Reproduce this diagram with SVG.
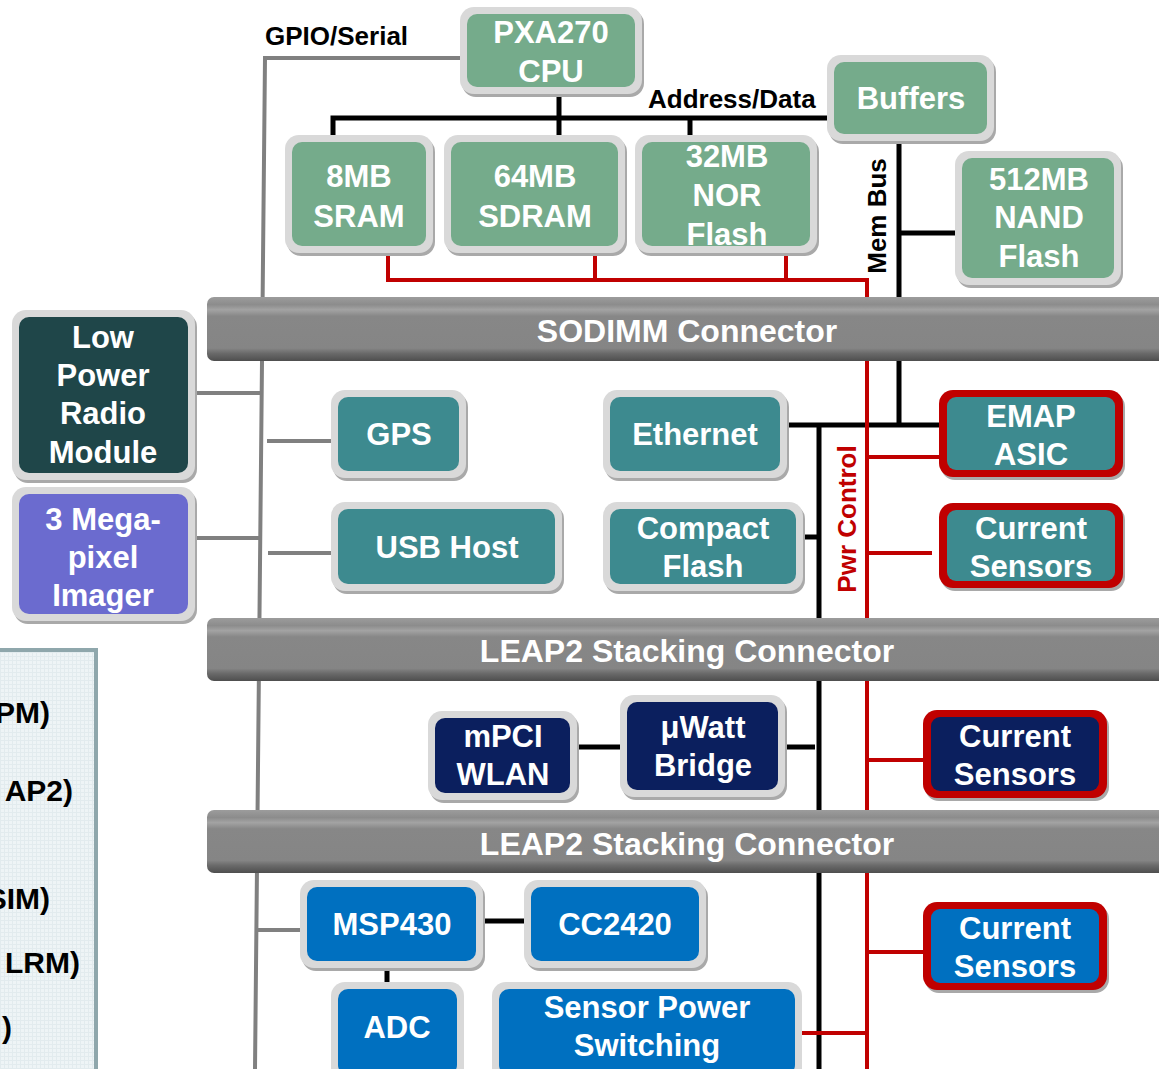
<svg xmlns="http://www.w3.org/2000/svg" width="1159" height="1069" viewBox="0 0 1159 1069">
<defs>
<style>
.t{font-family:"Liberation Sans",Arial,sans-serif;font-weight:bold;font-size:31px;fill:#fff;text-anchor:middle}
.bt{font-family:"Liberation Sans",Arial,sans-serif;font-weight:bold;font-size:32px;fill:#fff;text-anchor:middle}
.lbl{font-family:"Liberation Sans",Arial,sans-serif;font-weight:bold;font-size:26px;fill:#000}
.pl{font-family:"Liberation Sans",Arial,sans-serif;font-weight:bold;font-size:30px;fill:#000;text-anchor:end}
.frame{fill:#D9D9D9}
.shadow{fill:#A9A9A9}
.red{fill:#C00000}
.green{fill:#75AB8B}
.teal{fill:#3D8A8F}
.dteal{fill:#1F4649}
.purple{fill:#6B6BCF}
.navy{fill:#0B1F5E}
.blue{fill:#0070C0}
.gl{stroke:#808080;stroke-width:4;fill:none}
.bl{stroke:#000;stroke-width:5;fill:none}
.rl{stroke:#C00000;stroke-width:4;fill:none}
</style>
<linearGradient id="barg" x1="0" y1="0" x2="0" y2="1">
<stop offset="0" stop-color="#9C9C9C"/>
<stop offset="0.12" stop-color="#8C8C8C"/>
<stop offset="0.2" stop-color="#A3A3A3"/>
<stop offset="0.3" stop-color="#878787"/>
<stop offset="0.8" stop-color="#858585"/>
<stop offset="0.88" stop-color="#6A6A6A"/>
<stop offset="1" stop-color="#4E4E4E"/>
</linearGradient>
<pattern id="grid" width="4" height="4" patternUnits="userSpaceOnUse">
<rect width="4" height="4" fill="#EEF4F6"/>
<path d="M0 0.5H4M0.5 0V4" stroke="#E2EBEE" stroke-width="1"/>
</pattern>
</defs>

<rect width="1159" height="1069" fill="#fff"/>

<g id="legend-panel">
<rect x="-10" y="650" width="106" height="430" fill="url(#grid)" stroke="#8FA7AC" stroke-width="4"/>
<text class="pl" x="50" y="723">PM)</text>
<text class="pl" x="73" y="801">AP2)</text>
<text class="pl" x="50" y="909">SIM)</text>
<text class="pl" x="80" y="973">LRM)</text>
<text class="pl" x="12" y="1038">)</text>
</g>

<g id="connectors">
<polyline class="gl" points="460,58 265,58 255,1069"/>
<line class="gl" x1="195" y1="393" x2="262" y2="393"/>
<line class="gl" x1="195" y1="538" x2="260" y2="538"/>
<line class="gl" x1="267" y1="441" x2="331" y2="441"/>
<line class="gl" x1="268" y1="553" x2="331" y2="553"/>
<line class="gl" x1="256" y1="930" x2="300" y2="930"/>

<line class="bl" x1="559" y1="93" x2="559" y2="136"/>
<polyline class="bl" points="333,136 333,118 827,118"/>
<line class="bl" x1="690" y1="118" x2="690" y2="136"/>
<line class="bl" x1="899" y1="141" x2="899" y2="425"/>
<line class="bl" x1="899" y1="233" x2="955" y2="233"/>
<line class="bl" x1="787" y1="425" x2="939" y2="425"/>
<line class="bl" x1="819" y1="423" x2="819" y2="1069"/>
<line class="bl" x1="803" y1="537" x2="819" y2="537"/>
<line class="bl" x1="577" y1="747" x2="620" y2="747"/>
<line class="bl" x1="785" y1="747" x2="815" y2="747"/>
<line class="bl" x1="483" y1="921" x2="524" y2="921"/>
<line class="bl" x1="387" y1="968" x2="387" y2="982"/>

<polyline class="rl" points="388,253 388,280 867,280 867,1069"/>
<line class="rl" x1="595" y1="253" x2="595" y2="280"/>
<line class="rl" x1="786" y1="253" x2="786" y2="280"/>
<line class="rl" x1="867" y1="457" x2="939" y2="457"/>
<line class="rl" x1="867" y1="553" x2="932" y2="553"/>
<line class="rl" x1="867" y1="760" x2="923" y2="760"/>
<line class="rl" x1="867" y1="952" x2="923" y2="952"/>
<line class="rl" x1="802" y1="1033" x2="867" y2="1033"/>

<text class="lbl" x="265" y="45">GPIO/Serial</text>
<text class="lbl" x="648" y="108">Address/Data</text>
<text class="lbl" transform="translate(886,216) rotate(-90)" text-anchor="middle">Mem Bus</text>
<text class="lbl" transform="translate(856,519) rotate(-90)" text-anchor="middle" style="fill:#C00000">Pwr Control</text>
</g>

<g id="sodimm-connector">
<rect x="207" y="297" width="970" height="64" rx="7" fill="url(#barg)"/>
<text class="bt" x="687" y="342">SODIMM Connector</text>
</g>
<g id="leap2-connector-1">
<rect x="207" y="618" width="970" height="63" rx="7" fill="url(#barg)"/>
<text class="bt" x="687" y="662">LEAP2 Stacking Connector</text>
</g>
<g id="leap2-connector-2">
<rect x="207" y="810" width="970" height="63" rx="7" fill="url(#barg)"/>
<text class="bt" x="687" y="855">LEAP2 Stacking Connector</text>
</g>

<g id="cpu">
<rect class="shadow" x="462" y="10" width="182" height="87" rx="14"/>
<rect class="frame" x="460" y="7" width="182" height="87" rx="14"/>
<rect class="green" x="467" y="14" width="168" height="73" rx="10"/>
<text class="t" x="551" y="43">PXA270</text>
<text class="t" x="551" y="82">CPU</text>
</g>
<g id="buffers">
<rect class="shadow" x="829" y="58" width="167" height="86" rx="14"/>
<rect class="frame" x="827" y="55" width="167" height="86" rx="14"/>
<rect class="green" x="834" y="62" width="153" height="72" rx="10"/>
<text class="t" x="911" y="109">Buffers</text>
</g>
<g id="sram">
<rect class="shadow" x="287" y="138" width="148" height="118" rx="14"/>
<rect class="frame" x="285" y="135" width="148" height="118" rx="14"/>
<rect class="green" x="292" y="142" width="134" height="104" rx="10"/>
<text class="t" x="359" y="187">8MB</text>
<text class="t" x="359" y="227">SRAM</text>
</g>
<g id="sdram">
<rect class="shadow" x="446" y="138" width="181" height="118" rx="14"/>
<rect class="frame" x="444" y="135" width="181" height="118" rx="14"/>
<rect class="green" x="451" y="142" width="167" height="104" rx="10"/>
<text class="t" x="535" y="187">64MB</text>
<text class="t" x="535" y="227">SDRAM</text>
</g>
<g id="nor-flash">
<rect class="shadow" x="637" y="138" width="182" height="118" rx="14"/>
<rect class="frame" x="635" y="135" width="182" height="118" rx="14"/>
<rect class="green" x="642" y="142" width="168" height="104" rx="10"/>
<text class="t" x="727" y="167">32MB</text>
<text class="t" x="727" y="206">NOR</text>
<text class="t" x="727" y="245">Flash</text>
</g>
<g id="nand-flash">
<rect class="shadow" x="957" y="154" width="166" height="134" rx="14"/>
<rect class="frame" x="955" y="151" width="166" height="134" rx="14"/>
<rect class="green" x="962" y="158" width="152" height="120" rx="10"/>
<text class="t" x="1039" y="190">512MB</text>
<text class="t" x="1039" y="228">NAND</text>
<text class="t" x="1039" y="267">Flash</text>
</g>
<g id="low-power-radio">
<rect class="shadow" x="14" y="313" width="183" height="170" rx="14"/>
<rect class="frame" x="12" y="310" width="183" height="170" rx="14"/>
<rect class="dteal" x="19" y="317" width="169" height="156" rx="10"/>
<text class="t" x="103" y="348">Low</text>
<text class="t" x="103" y="386">Power</text>
<text class="t" x="103" y="424">Radio</text>
<text class="t" x="103" y="463">Module</text>
</g>
<g id="imager">
<rect class="shadow" x="14" y="490" width="183" height="134" rx="14"/>
<rect class="frame" x="12" y="487" width="183" height="134" rx="14"/>
<rect class="purple" x="19" y="494" width="169" height="120" rx="10"/>
<text class="t" x="103" y="530">3 Mega-</text>
<text class="t" x="103" y="568">pixel</text>
<text class="t" x="103" y="606">Imager</text>
</g>
<g id="gps">
<rect class="shadow" x="333" y="393" width="135" height="88" rx="14"/>
<rect class="frame" x="331" y="390" width="135" height="88" rx="14"/>
<rect class="teal" x="338" y="397" width="121" height="74" rx="10"/>
<text class="t" x="399" y="445">GPS</text>
</g>
<g id="usb-host">
<rect class="shadow" x="333" y="505" width="231" height="89" rx="14"/>
<rect class="frame" x="331" y="502" width="231" height="89" rx="14"/>
<rect class="teal" x="338" y="509" width="217" height="75" rx="10"/>
<text class="t" x="447" y="558">USB Host</text>
</g>
<g id="ethernet">
<rect class="shadow" x="605" y="393" width="184" height="88" rx="14"/>
<rect class="frame" x="603" y="390" width="184" height="88" rx="14"/>
<rect class="teal" x="610" y="397" width="170" height="74" rx="10"/>
<text class="t" x="695" y="445">Ethernet</text>
</g>
<g id="compact-flash">
<rect class="shadow" x="605" y="505" width="200" height="89" rx="14"/>
<rect class="frame" x="603" y="502" width="200" height="89" rx="14"/>
<rect class="teal" x="610" y="509" width="186" height="75" rx="10"/>
<text class="t" x="703" y="539">Compact</text>
<text class="t" x="703" y="577">Flash</text>
</g>
<g id="emap-asic">
<rect class="shadow" x="941" y="393" width="184" height="87" rx="14"/>
<rect class="red" x="939" y="390" width="184" height="87" rx="14"/>
<rect class="teal" x="947" y="397" width="168" height="73" rx="9"/>
<text class="t" x="1031" y="427">EMAP</text>
<text class="t" x="1031" y="465">ASIC</text>
</g>
<g id="current-sensors-1">
<rect class="shadow" x="941" y="506" width="184" height="85" rx="14"/>
<rect class="red" x="939" y="503" width="184" height="85" rx="14"/>
<rect class="teal" x="947" y="510" width="168" height="71" rx="9"/>
<text class="t" x="1031" y="539">Current</text>
<text class="t" x="1031" y="577">Sensors</text>
</g>
<g id="mpci-wlan">
<rect class="shadow" x="430" y="714" width="149" height="89" rx="14"/>
<rect class="frame" x="428" y="711" width="149" height="89" rx="14"/>
<rect class="navy" x="435" y="718" width="135" height="75" rx="10"/>
<text class="t" x="503" y="747">mPCI</text>
<text class="t" x="503" y="785">WLAN</text>
</g>
<g id="uwatt-bridge">
<rect class="shadow" x="622" y="698" width="165" height="102" rx="14"/>
<rect class="frame" x="620" y="695" width="165" height="102" rx="14"/>
<rect class="navy" x="627" y="702" width="151" height="88" rx="10"/>
<text class="t" x="703" y="738">μWatt</text>
<text class="t" x="703" y="776">Bridge</text>
</g>
<g id="current-sensors-2">
<rect class="shadow" x="925" y="713" width="184" height="88" rx="14"/>
<rect class="red" x="923" y="710" width="184" height="88" rx="14"/>
<rect class="navy" x="931" y="717" width="168" height="74" rx="9"/>
<text class="t" x="1015" y="747">Current</text>
<text class="t" x="1015" y="785">Sensors</text>
</g>
<g id="msp430">
<rect class="shadow" x="302" y="883" width="183" height="88" rx="14"/>
<rect class="frame" x="300" y="880" width="183" height="88" rx="14"/>
<rect class="blue" x="307" y="887" width="169" height="74" rx="10"/>
<text class="t" x="392" y="935">MSP430</text>
</g>
<g id="cc2420">
<rect class="shadow" x="526" y="883" width="182" height="88" rx="14"/>
<rect class="frame" x="524" y="880" width="182" height="88" rx="14"/>
<rect class="blue" x="531" y="887" width="168" height="74" rx="10"/>
<text class="t" x="615" y="935">CC2420</text>
</g>
<g id="adc">
<rect class="frame" x="331" y="982" width="133" height="100" rx="14"/>
<rect class="blue" x="338" y="989" width="119" height="86" rx="10"/>
<text class="t" x="397" y="1038">ADC</text>
</g>
<g id="sensor-power-switching">
<rect class="frame" x="492" y="982" width="310" height="100" rx="14"/>
<rect class="blue" x="499" y="989" width="296" height="86" rx="10"/>
<text class="t" x="647" y="1018">Sensor Power</text>
<text class="t" x="647" y="1056">Switching</text>
</g>
<g id="current-sensors-3">
<rect class="shadow" x="925" y="905" width="184" height="88" rx="14"/>
<rect class="red" x="923" y="902" width="184" height="88" rx="14"/>
<rect class="blue" x="931" y="909" width="168" height="74" rx="9"/>
<text class="t" x="1015" y="939">Current</text>
<text class="t" x="1015" y="977">Sensors</text>
</g>
</svg>
